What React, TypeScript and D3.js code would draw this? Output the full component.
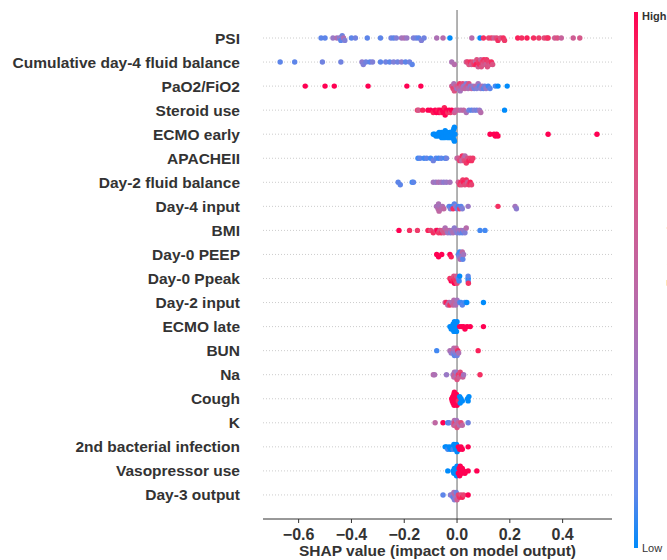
import React from "react";
import * as d3 from "d3";

const FEATURES = [
  "PSI",
  "Cumulative day-4 fluid balance",
  "PaO2/FiO2",
  "Steroid use",
  "ECMO early",
  "APACHEII",
  "Day-2 fluid balance",
  "Day-4 input",
  "BMI",
  "Day-0 PEEP",
  "Day-0 Ppeak",
  "Day-2 input",
  "ECMO late",
  "BUN",
  "Na",
  "Cough",
  "K",
  "2nd bacterial infection",
  "Vasopressor use",
  "Day-3 output",
];

const TICKS = [-0.6, -0.4, -0.2, 0.0, 0.2, 0.4];

// [SHAP value, normalized feature value]
const PSI: number[][] = [
  [-0.515, 0.1], [-0.5, 0.1], [-0.47, 0.3], [-0.455, 0.4], [-0.445, 0.2], [-0.44, 0.35], [-0.435, 0.15],
  [-0.43, 0.4], [-0.425, 0.2], [-0.44, 0.1], [-0.4, 0.1], [-0.385, 0.15], [-0.34, 0.1], [-0.29, 0.1],
  [-0.25, 0.15], [-0.24, 0.1], [-0.23, 0.2], [-0.21, 0.35], [-0.2, 0.4], [-0.19, 0.3], [-0.165, 0.2],
  [-0.155, 0.15], [-0.145, 0.1], [-0.135, 0.2], [-0.125, 0.15], [-0.077, 0.4], [-0.053, 0.45], [-0.027, 0.0],
  [0.056, 0.45], [0.087, 0.0], [0.1, 0.9], [0.12, 0.8], [0.13, 0.85], [0.14, 0.6], [0.15, 0.75], [0.155, 0.9],
  [0.165, 0.7], [0.175, 0.9], [0.18, 0.85], [0.23, 0.95], [0.245, 0.9], [0.265, 0.95], [0.29, 0.9],
  [0.31, 0.85], [0.33, 0.75], [0.34, 0.85], [0.345, 0.9], [0.37, 0.6], [0.38, 0.7], [0.395, 0.55],
  [0.44, 0.6], [0.465, 0.65],
];
const CUM_FLUID: number[][] = [
  [-0.67, 0.1], [-0.615, 0.1], [-0.51, 0.15], [-0.44, 0.15], [-0.36, 0.25], [-0.355, 0.2], [-0.345, 0.15],
  [-0.33, 0.1], [-0.32, 0.2], [-0.29, 0.1], [-0.27, 0.15], [-0.255, 0.1], [-0.24, 0.2], [-0.225, 0.15],
  [-0.21, 0.25], [-0.195, 0.1], [-0.18, 0.15], [-0.17, 0.1], [-0.02, 0.4], [-0.01, 0.45],
  [0.035, 0.6], [0.04, 0.8], [0.045, 0.7], [0.05, 0.9], [0.055, 0.6], [0.06, 0.75], [0.065, 0.85],
  [0.07, 0.5], [0.072, 0.95], [0.075, 0.7], [0.08, 0.6], [0.082, 0.85], [0.085, 0.9], [0.09, 0.55],
  [0.092, 0.7], [0.095, 0.8], [0.1, 0.65], [0.102, 0.9], [0.105, 0.75], [0.11, 0.6], [0.112, 0.85],
  [0.115, 0.7], [0.12, 0.8], [0.125, 0.65], [0.13, 0.9], [0.135, 0.7],
];
const PAO2: number[][] = [
  [-0.575, 1], [-0.5, 1], [-0.465, 1], [-0.337, 1], [-0.19, 1], [-0.137, 1],
  [-0.02, 0.6], [-0.015, 0.8], [-0.012, 0.4], [-0.01, 0.7], [-0.005, 0.55], [0, 0.3], [0.003, 0.65],
  [0.006, 0.5], [0.01, 0.85], [0.012, 0.35], [0.015, 0.6], [0.02, 0.45], [0.022, 0.75], [0.025, 0.3],
  [0.03, 0.5], [0.035, 0.2], [0.038, 0.6], [0.042, 0.4], [0.045, 0.7], [0.05, 0.25], [0.055, 0.5],
  [0.06, 0.3], [0.065, 0.15], [0.07, 0.45], [0.075, 0.2], [0.08, 0.35], [0.085, 0.1], [0.09, 0.25],
  [0.095, 0.4], [0.1, 0.1], [0.105, 0.15], [0.11, 0.3], [0.118, 0.05], [0.125, 0.1], [0.145, 0.05],
  [0.155, 0.0], [0.19, 0.0],
];
const STEROID: number[][] = [
  [-0.15, 0.8], [-0.145, 0.65], [-0.13, 0.95], [-0.11, 1], [-0.1, 1], [-0.09, 0.95], [-0.083, 1],
  [-0.078, 1], [-0.072, 0.95], [-0.068, 1], [-0.065, 1], [-0.06, 0.9], [-0.055, 1], [-0.052, 1],
  [-0.048, 0.95], [-0.045, 1], [-0.04, 1], [-0.035, 0.9], [-0.03, 1], [-0.025, 0.85], [-0.02, 1],
  [-0.01, 0.6], [-0.005, 0.5], [0.005, 0.55], [0.015, 0.45], [0.025, 0.5], [0.035, 0.4], [0.045, 0.15],
  [0.055, 0.1], [0.065, 0.2], [0.075, 0.15], [0.085, 0.3], [0.09, 0.45], [0.18, 0.0],
];
const ECMO_EARLY: number[][] = [
  [-0.09, 0], [-0.085, 0], [-0.08, 0], [-0.075, 0], [-0.072, 0], [-0.068, 0], [-0.065, 0], [-0.062, 0],
  [-0.06, 0], [-0.058, 0], [-0.055, 0], [-0.052, 0], [-0.05, 0], [-0.048, 0], [-0.045, 0], [-0.042, 0],
  [-0.04, 0], [-0.038, 0], [-0.035, 0], [-0.032, 0], [-0.03, 0], [-0.028, 0], [-0.025, 0], [-0.02, 0],
  [-0.018, 0], [-0.015, 0], [-0.012, 0], [-0.01, 0], [-0.008, 0], [-0.02, 0], [-0.015, 0], [-0.012, 0],
  [-0.01, 0], [0.125, 1], [0.14, 1], [0.145, 1], [0.15, 1], [0.155, 1], [0.345, 1], [0.53, 1],
];
const APACHE: number[][] = [
  [-0.148, 0.05], [-0.14, 0.1], [-0.125, 0.05], [-0.115, 0.1], [-0.1, 0.05], [-0.09, 0.15], [-0.08, 0.1],
  [-0.07, 0.05], [-0.06, 0.1], [-0.045, 0.05], [-0.04, 0.15], [0, 0.5], [0.005, 0.6], [0.01, 0.8],
  [0.015, 0.7], [0.018, 0.5], [0.02, 0.9], [0.025, 0.6], [0.028, 0.75], [0.03, 0.45], [0.035, 0.85],
  [0.04, 0.7], [0.045, 0.95], [0.05, 0.8], [0.055, 0.9], [0.06, 0.85],
];
const DAY2_FLUID: number[][] = [
  [-0.223, 0.1], [-0.215, 0.1], [-0.17, 0.05], [-0.165, 0.1], [-0.09, 0.35], [-0.08, 0.3], [-0.07, 0.4],
  [-0.06, 0.35], [-0.05, 0.25], [-0.04, 0.3], [-0.027, 0.35], [0.005, 0.6], [0.01, 0.8], [0.015, 0.9],
  [0.018, 0.7], [0.022, 0.85], [0.025, 0.95], [0.03, 0.75], [0.035, 0.9], [0.04, 0.6], [0.045, 0.85],
  [0.05, 0.95], [0.055, 0.8],
];
const DAY4_INPUT: number[][] = [
  [-0.078, 0.4], [-0.075, 0.35], [-0.072, 0.45], [-0.07, 0.4], [-0.068, 0.5], [-0.065, 0.35], [-0.06, 0.45],
  [-0.055, 0.4], [-0.05, 0.5], [-0.03, 0.1], [-0.025, 0.2], [-0.02, 0.05], [-0.015, 0.9], [-0.01, 0.1],
  [-0.005, 0.3], [0, 0.15], [0.005, 0.05], [0.01, 0.85], [0.015, 0.1], [0.02, 0.2], [0.042, 0.3],
  [0.155, 0.9], [0.22, 0.35], [0.225, 0.25],
];
const BMI: number[][] = [
  [-0.22, 1], [-0.18, 0.9], [-0.15, 0.85], [-0.11, 0.95], [-0.1, 0.8], [-0.09, 0.9], [-0.08, 0.75],
  [-0.075, 1], [-0.07, 0.85], [-0.065, 0.7], [-0.06, 0.9], [-0.055, 0.6], [-0.05, 0.65], [-0.045, 0.4],
  [-0.04, 0.5], [-0.035, 0.3], [-0.03, 0.45], [-0.025, 0.2], [-0.02, 0.35], [-0.015, 0.4], [-0.01, 0.25],
  [-0.005, 0.3], [0, 0.2], [0.005, 0.35], [0.01, 0.15], [0.015, 0.4], [0.02, 0.1], [0.025, 0.3],
  [0.03, 0.2], [0.035, 0.45], [0.087, 0.05], [0.106, 0.05],
];
const PEEP: number[][] = [
  [-0.077, 1], [-0.07, 1], [-0.058, 1], [-0.027, 1], [-0.022, 0.95], [0.005, 0.1], [0.008, 0.2],
  [0.01, 0.05], [0.012, 0.4], [0.015, 0.15], [0.018, 0.3], [0.02, 0.5], [0.022, 0.1], [0.025, 0.35],
];
const PPEAK: number[][] = [
  [-0.027, 0.9], [-0.022, 1], [-0.02, 0.8], [-0.015, 0.95], [-0.012, 0.7], [-0.01, 1], [-0.008, 0.85],
  [-0.005, 0.9], [-0.002, 0.6], [0, 0.75], [0.005, 0.1], [0.008, 0.05], [0.01, 0.0], [0.042, 0.0],
  [0.042, 0.05], [0.043, 0.9], [0.042, 0.1],
];
const DAY2_INPUT: number[][] = [
  [-0.045, 0.6], [-0.04, 0.95], [-0.035, 0.5], [-0.03, 0.45], [-0.027, 0.9], [-0.02, 0.4], [-0.015, 0.55],
  [-0.012, 0.45], [-0.008, 0.5], [-0.005, 0.4], [0, 0.35], [0.01, 0.1], [0.015, 0.05], [0.02, 0.1],
  [0.03, 0.05], [0.037, 0.0], [0.1, 0.0],
];
const ECMO_LATE: number[][] = [
  [-0.027, 0], [-0.022, 0], [-0.02, 0], [-0.018, 0], [-0.015, 0], [-0.012, 0], [-0.01, 0], [-0.008, 0],
  [-0.006, 0], [-0.004, 0], [-0.002, 0], [0, 0], [0.01, 1], [0.018, 1], [0.025, 1], [0.03, 1],
  [0.038, 1], [0.05, 1], [0.1, 1],
];
const BUN: number[][] = [
  [-0.077, 0.05], [-0.027, 0.4], [-0.022, 0.3], [-0.018, 0.5], [-0.015, 0.2], [-0.012, 0.45], [-0.01, 0.1],
  [-0.008, 0.35], [-0.005, 0.25], [-0.003, 0.55], [0, 0.15], [0.003, 0.9], [0.006, 0.4], [0.08, 0.95],
];
const NA: number[][] = [
  [-0.09, 0.45], [-0.085, 0.4], [-0.04, 0.3], [-0.015, 0.35], [-0.012, 0.5], [-0.01, 0.4], [-0.008, 0.6],
  [-0.005, 0.45], [-0.003, 0.3], [0, 0.7], [0.005, 0.85], [0.008, 0.6], [0.012, 0.75], [0.018, 0.9],
  [0.022, 0.55], [0.025, 0.35], [0.087, 0.9],
];
const COUGH: number[][] = [
  [-0.02, 1], [-0.018, 1], [-0.015, 1], [-0.012, 1], [-0.01, 1], [-0.008, 1], [-0.006, 1], [-0.004, 1],
  [-0.002, 1], [0, 1], [0.003, 1], [0.005, 0.9], [-0.016, 1], [-0.011, 1], [-0.007, 1],
  [0.01, 0], [0.012, 0], [0.015, 0], [0.02, 0], [0.04, 0], [0.042, 0], [0.045, 0],
];
const K: number[][] = [
  [-0.083, 0.5], [-0.053, 1], [-0.035, 0.05], [-0.03, 0.1], [-0.015, 0.4], [-0.012, 0.6], [-0.01, 0.45],
  [-0.008, 0.8], [-0.005, 0.5], [-0.002, 0.35], [0, 0.7], [0.005, 0.55], [0.01, 0.4], [0.015, 0.75],
  [0.02, 0.5], [0.042, 0.15],
];
const BACT_INF: number[][] = [
  [-0.045, 0], [-0.04, 0], [-0.035, 0.05], [-0.03, 0], [-0.025, 0], [-0.02, 0], [-0.015, 0.05],
  [-0.012, 0], [-0.008, 0], [-0.005, 0], [-0.002, 0], [0, 0], [0.005, 1], [0.01, 1], [0.015, 1],
  [0.02, 1], [0.042, 1],
];
const VASO: number[][] = [
  [-0.035, 0], [-0.015, 0], [-0.012, 0], [-0.01, 0], [-0.008, 0], [-0.006, 0], [-0.004, 0], [-0.002, 0],
  [0, 0], [0.002, 0], [0.005, 1], [0.008, 1], [0.01, 1], [0.012, 1], [0.015, 1], [0.018, 1], [0.02, 1],
  [0.025, 1], [0.03, 1], [0.042, 1], [0.075, 1],
];
const DAY3_OUTPUT: number[][] = [
  [-0.053, 0.1], [-0.025, 0.2], [-0.02, 0.3], [-0.015, 0.1], [-0.012, 0.4], [-0.01, 0.2], [-0.008, 0.5],
  [-0.005, 0.3], [-0.003, 0.15], [0, 0.6], [0.005, 0.8], [0.01, 0.9], [0.015, 0.7], [0.02, 0.95],
  [0.025, 0.8], [0.042, 1],
];

const ROWS = [
  PSI, CUM_FLUID, PAO2, STEROID, ECMO_EARLY, APACHE, DAY2_FLUID, DAY4_INPUT, BMI, PEEP,
  PPEAK, DAY2_INPUT, ECMO_LATE, BUN, NA, COUGH, K, BACT_INF, VASO, DAY3_OUTPUT,
];

const W = 667;
const H = 560;
const X0 = 263;
const X1 = 612;
const Y_FIRST = 38;
const ROW_STEP = 24.05;
const AXIS_Y = 519;
const R = 2.7;

const x = d3.scaleLinear().domain([-0.735, 0.587]).range([X0, X1]);
const y = d3.scaleLinear().domain([0, FEATURES.length - 1]).range([Y_FIRST, Y_FIRST + ROW_STEP * (FEATURES.length - 1)]);
const color = d3.interpolateLab("#008bfb", "#ff0052");

function swarm(points: number[][], row: number) {
  const binW = 3.0;
  const items = points
    .map((p) => ({ s: p[0], f: p[1], bin: Math.round(x(p[0]) / binW), off: 0 }))
    .sort((a, b) => a.bin - b.bin || a.s - b.s);
  let last: number | null = null;
  let layer = 0;
  for (const it of items) {
    if (it.bin !== last) {
      layer = 0;
      last = it.bin;
    }
    it.off = Math.ceil(layer / 2) * ((layer % 2) * 2 - 1);
    layer++;
  }
  const maxOff = d3.max(items, (d) => Math.abs(d.off)) || 0;
  const dy = Math.min(2.4, (0.36 * ROW_STEP) / (maxOff + 1));
  return items.map((it) => ({ cx: x(it.s), cy: y(row) + it.off * dy, fill: color(it.f) }));
}

export default function App() {
  const font = "'Liberation Sans', Arial, Helvetica, sans-serif";
  const gradStops = d3.range(0, 1.0001, 0.1);
  return (
    <svg
      width={W}
      height={H}
      style={{ position: "absolute", left: 0, top: 0, background: "#fff" }}
      fontFamily={font}
    >
      <defs>
        <linearGradient id="cbar" x1="0" y1="1" x2="0" y2="0">
          {gradStops.map((t) => (
            <stop key={t} offset={`${t * 100}%`} stopColor={color(t)} />
          ))}
        </linearGradient>
      </defs>
      <rect x={0} y={0} width={W} height={H} fill="#fff" />
      {FEATURES.map((_, i) => (
        <line
          key={`g${i}`}
          x1={X0}
          x2={X1}
          y1={y(i)}
          y2={y(i)}
          stroke="#cccccc"
          strokeWidth={1}
          strokeDasharray="1,2"
        />
      ))}
      <line x1={x(0)} x2={x(0)} y1={10} y2={AXIS_Y} stroke="#999" strokeWidth={1.5} />
      {ROWS.map((pts, i) =>
        swarm(pts, i).map((p, j) => (
          <circle key={`p${i}-${j}`} cx={p.cx} cy={p.cy} r={R} fill={p.fill} />
        ))
      )}
      {FEATURES.map((f, i) => (
        <text
          key={`l${i}`}
          x={240}
          y={y(i) + 5.5}
          textAnchor="end"
          fontSize={15.5}
          fontWeight="bold"
          fill="#333"
        >
          {f}
        </text>
      ))}
      <line x1={X0} x2={X1} y1={AXIS_Y} y2={AXIS_Y} stroke="#333" strokeWidth={1} />
      {TICKS.map((t) => (
        <g key={`t${t}`}>
          <line x1={x(t)} x2={x(t)} y1={AXIS_Y} y2={AXIS_Y + 4} stroke="#333" />
          <text
            x={x(t)}
            y={AXIS_Y + 21}
            textAnchor="middle"
            fontSize={16}
            fontWeight="bold"
            fill="#333"
          >
            {d3.format(".1f")(t).replace("-", "\u2212")}
          </text>
        </g>
      ))}
      <text
        x={(X0 + X1) / 2}
        y={556}
        textAnchor="middle"
        fontSize={15.5}
        fontWeight="bold"
        fill="#333"
      >
        SHAP value (impact on model output)
      </text>
      <rect x={634} y={12} width={4} height={536} fill="url(#cbar)" />
      <text x={642} y={20} fontSize={11} fontWeight="bold" fill="#333">
        High
      </text>
      <text x={642} y={552} fontSize={11} fill="#333">
        Low
      </text>
      <text
        transform={`translate(676, 250) rotate(-90)`}
        textAnchor="middle"
        fontSize={12}
        fill="#333"
      >
        Feature value
      </text>
    </svg>
  );
}
